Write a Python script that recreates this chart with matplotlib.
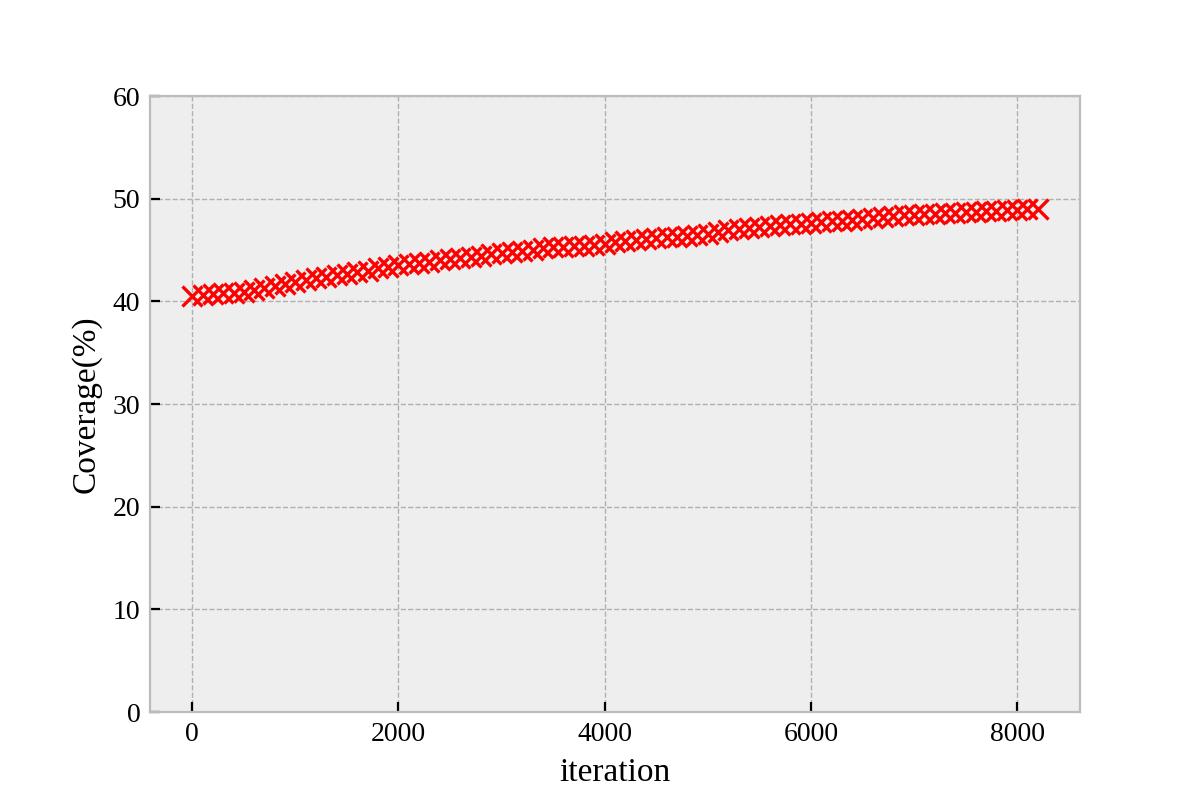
import numpy as np
import matplotlib.pyplot as plt

plt.style.use('bmh')
plt.rcParams['font.family'] = ['Liberation Serif', 'DejaVu Serif']

# iteration / coverage readings (every 100 iterations)
iteration = np.arange(0, 8300, 100)
coverage = [40.5, 40.6, 40.7, 40.8, 40.8, 40.9, 41.1, 41.3, 41.5, 41.7,
            41.9, 42.1, 42.3, 42.4, 42.6, 42.7, 42.9, 43.0, 43.2, 43.3,
            43.5, 43.6, 43.7, 43.8, 44.0, 44.1, 44.2, 44.3, 44.4, 44.6,
            44.7, 44.8, 44.9, 45.0, 45.2, 45.3, 45.3, 45.4, 45.4, 45.5,
            45.6, 45.8, 45.9, 46.0, 46.1, 46.2, 46.3, 46.3, 46.4, 46.5,
            46.6, 46.8, 46.9, 47.0, 47.1, 47.2, 47.3, 47.4, 47.5, 47.5,
            47.6, 47.7, 47.8, 47.8, 47.9, 48.0, 48.1, 48.2, 48.3, 48.4,
            48.4, 48.5, 48.5, 48.6, 48.6, 48.7, 48.7, 48.8, 48.8, 48.9,
            48.9, 49.0, 49.0]

fig, ax = plt.subplots(figsize=(6, 4), dpi=200)
ax.plot(iteration, coverage, 'x', color='red', markersize=7, markeredgewidth=1.2)
ax.set_ylim(0, 60)
ax.set_xlabel('iteration', fontsize=12)
ax.set_ylabel('Coverage(%)', fontsize=12)
ax.tick_params(labelsize=10)
ax.grid(True, linestyle='--', linewidth=0.5, color='#b0b0b0')
plt.savefig('out.png')
